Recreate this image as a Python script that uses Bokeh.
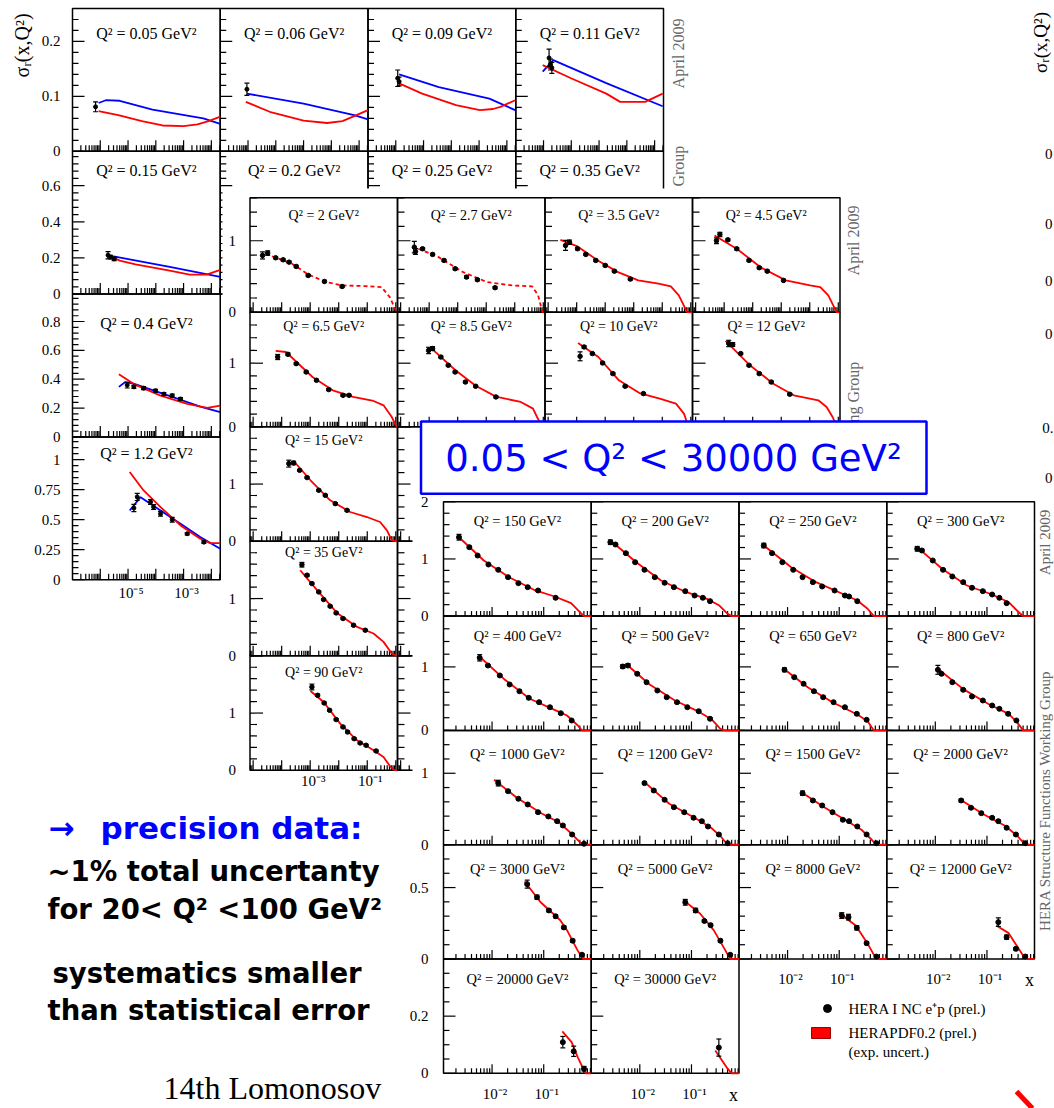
import math
from bokeh.plotting import figure
from bokeh.models import Range1d, LogScale, LinearScale, CoordinateMapping
from bokeh.core.properties import value
from bokeh.embed import file_html
from bokeh.resources import INLINE

# ---------------- values ----------------
# points: log10(x), sigma_r, error ; curves: log10(x), sigma_r
# grid 1 (0.05 - 1.2 GeV2): HERAPDF (red) and a second model (blue)
q0p05_lx = [-6.17]; q0p05_y = [0.081]; q0p05_e = [0.009]
q0p05_red_lx = [-6.06, -5.35, -4.5, -3.76, -3.0, -2.5, -2.1, -1.68]
q0p05_red_y = [0.073, 0.066, 0.055, 0.047, 0.046, 0.049, 0.055, 0.063]
q0p05_blue_lx = [-6.06, -5.8, -5.3, -4.12, -2.29, -1.68]
q0p05_blue_y = [0.088, 0.093, 0.092, 0.076, 0.060, 0.050]

q0p06_lx = [-6.04]; q0p06_y = [0.113]; q0p06_e = [0.011]
q0p06_red_lx = [-6.08, -5.22, -4.0, -3.15, -2.6, -2.18, -1.68]
q0p06_red_y = [0.090, 0.072, 0.056, 0.0515, 0.055, 0.064, 0.075]
q0p06_blue_lx = [-6.04, -4.0, -2.18, -1.68]
q0p06_blue_y = [0.105, 0.087, 0.066, 0.058]

q0p09_lx = [-5.93, -5.88]; q0p09_y = [0.133, 0.127]; q0p09_e = [0.015, 0.008]
q0p09_red_lx = [-5.9, -5.05, -3.83, -2.97, -2.5, -2.23, -1.70]
q0p09_red_y = [0.124, 0.105, 0.084, 0.075, 0.077, 0.081, 0.093]
q0p09_blue_lx = [-5.88, -4.45, -2.63, -1.70]
q0p09_blue_y = [0.140, 0.117, 0.096, 0.075]

q0p11_lx = [-5.8, -5.75, -5.7]; q0p11_y = [0.170, 0.158, 0.152]; q0p11_e = [0.016, 0.01, 0.01]
q0p11_red_lx = [-6.03, -5.01, -3.74, -3.24, -2.34, -1.71]
q0p11_red_y = [0.157, 0.133, 0.105, 0.090, 0.090, 0.105]
q0p11_blue_lx = [-6.03, -5.65, -3.74, -1.71]
q0p11_blue_y = [0.145, 0.166, 0.124, 0.082]

q0p15_lx = [-5.72, -5.62, -5.5]; q0p15_y = [0.215, 0.205, 0.195]; q0p15_e = [0.02, 0.01, 0.01]
q0p15_red_lx = [-5.7, -5.3, -4.73, -3.5, -2.78, -2.17, -1.68]
q0p15_red_y = [0.215, 0.185, 0.165, 0.13, 0.108, 0.108, 0.134]
q0p15_blue_lx = [-5.52, -3.5, -1.68]
q0p15_blue_y = [0.209, 0.15, 0.095]

q0p4_lx = [-5.03, -4.79, -4.44, -4.01, -3.71, -3.41, -3.11]
q0p4_y = [0.359, 0.347, 0.338, 0.32, 0.297, 0.286, 0.263]
q0p4_e = [0.02, 0.01, 0.01, 0.01, 0.01, 0.01, 0.01]
q0p4_red_lx = [-5.33, -4.79, -3.83, -2.87, -2.15, -1.68]
q0p4_red_y = [0.434, 0.366, 0.286, 0.229, 0.201, 0.217]
q0p4_blue_lx = [-5.33, -5.1, -4.8, -3.36, -2.40, -1.68]
q0p4_blue_y = [0.347, 0.38, 0.37, 0.274, 0.21, 0.171]

q1p2_lx = [-4.79, -4.67, -4.19, -4.08, -3.83, -3.41, -2.87, -2.27]
q1p2_y = [0.597, 0.69, 0.647, 0.605, 0.55, 0.5, 0.383, 0.313]
q1p2_e = [0.03, 0.03, 0.02, 0.02, 0.02, 0.02, 0.01, 0.01]
q1p2_red_lx = [-4.94, -4.44, -3.83, -3.11, -2.40, -2.04, -1.68]
q1p2_red_y = [0.897, 0.744, 0.605, 0.452, 0.341, 0.305, 0.305]
q1p2_blue_lx = [-4.94, -4.55, -3.83, -3.11, -2.40, -1.68]
q1p2_blue_y = [0.577, 0.688, 0.577, 0.467, 0.355, 0.258]

# grid 2 (2 - 90 GeV2)
q2_lx = [-4.67, -4.49, -4.21, -3.95, -3.74, -3.49, -3.07, -2.5, -1.88]
q2_y = [0.795, 0.827, 0.762, 0.734, 0.701, 0.641, 0.515, 0.431, 0.361]
q2_e = [0.05, 0.03, 0.015, 0.015, 0.015, 0.015, 0.015, 0.015, 0.015]
q2_red_lx = [-4.57, -3.64, -3.07, -2.5, -1.9, -1.07, -0.5, -0.21, 0.0, 0.05]
q2_red_y = [0.818, 0.679, 0.53, 0.43, 0.376, 0.366, 0.352, 0.212, 0.027, 0.0]

q2p7_lx = [-4.52, -4.48, -4.23, -3.88, -3.48, -3.09, -2.69, -2.31, -1.69]
q2p7_y = [0.91, 0.85, 0.888, 0.809, 0.725, 0.609, 0.492, 0.455, 0.344]
q2p7_e = [0.08, 0.04, 0.015, 0.015, 0.015, 0.015, 0.015, 0.015, 0.015]
q2p7_red_lx = [-4.38, -3.67, -2.81, -1.96, -1.1, -0.39, -0.18, -0.03, 0.05]
q2p7_red_y = [0.888, 0.771, 0.561, 0.421, 0.376, 0.362, 0.236, 0.003, 0.0]

q3p5_lx = [-4.39, -4.25, -3.97, -3.68, -3.33, -3.0, -2.68, -2.12]
q3p5_y = [0.934, 0.98, 0.888, 0.809, 0.725, 0.655, 0.575, 0.464]
q3p5_e = [0.07, 0.03, 0.015, 0.015, 0.015, 0.015, 0.015, 0.015]
q3p5_red_lx = [-4.57, -3.97, -3.26, -2.55, -1.84, -1.13, -0.7, -0.42, -0.13, 0.05]
q3p5_red_y = [1.013, 0.92, 0.725, 0.561, 0.446, 0.40, 0.362, 0.236, 0.003, 0.0]

q4p5_lx = [-4.27, -4.15, -3.87, -3.56, -3.13, -2.77, -2.49, -1.92]
q4p5_y = [1.0, 1.088, 1.013, 0.888, 0.725, 0.623, 0.575, 0.446]
q4p5_e = [0.04, 0.03, 0.015, 0.015, 0.015, 0.015, 0.015, 0.015]
q4p5_red_lx = [-4.34, -3.56, -2.7, -1.84, -0.99, -0.63, -0.35, -0.06, 0.05]
q4p5_red_y = [1.074, 0.888, 0.623, 0.446, 0.376, 0.352, 0.236, 0.003, 0.0]

q6p5_lx = [-4.14, -3.78, -3.49, -3.14, -2.78, -2.35, -1.85, -1.64]
q6p5_y = [1.097, 1.14, 0.993, 0.861, 0.731, 0.585, 0.495, 0.495]
q6p5_e = [0.04, 0.02, 0.015, 0.015, 0.015, 0.015, 0.015, 0.015]
q6p5_red_lx = [-4.21, -3.85, -2.92, -2.21, -1.5, -0.78, -0.43, -0.14, 0.0, 0.05]
q6p5_red_y = [1.192, 1.176, 0.783, 0.574, 0.469, 0.406, 0.338, 0.154, 0.024, 0.0]

q8p5_lx = [-4.02, -3.88, -3.59, -3.33, -3.09, -2.73, -2.37, -1.66]
q8p5_y = [1.2, 1.23, 1.097, 0.967, 0.861, 0.704, 0.637, 0.469]
q8p5_e = [0.05, 0.03, 0.015, 0.015, 0.015, 0.015, 0.015, 0.015]
q8p5_red_lx = [-3.95, -3.09, -2.37, -1.66, -0.79, -0.36, -0.22, -0.07, 0.05]
q8p5_red_y = [1.245, 0.893, 0.645, 0.474, 0.39, 0.286, 0.154, 0.024, 0.0]

q10_lx = [-3.88, -3.74, -3.45, -3.09, -2.73, -2.3, -1.66]
q10_y = [1.108, 1.255, 1.151, 1.003, 0.836, 0.637, 0.522]
q10_e = [0.07, 0.02, 0.015, 0.015, 0.015, 0.015, 0.015]
q10_red_lx = [-3.95, -3.24, -2.52, -1.8, -1.09, -0.52, -0.24, -0.1, 0.05]
q10_red_y = [1.318, 1.097, 0.731, 0.531, 0.443, 0.365, 0.208, 0.024, 0.0]

q12_lx = [-3.84, -3.7, -3.42, -3.13, -2.77, -2.35, -1.7]
q12_y = [1.31, 1.293, 1.151, 0.967, 0.836, 0.704, 0.511]
q12_e = [0.05, 0.03, 0.015, 0.015, 0.015, 0.015, 0.015]
q12_red_lx = [-3.95, -3.13, -2.28, -1.56, -0.7, -0.41, -0.2, -0.06, 0.05]
q12_red_y = [1.349, 0.98, 0.678, 0.495, 0.417, 0.311, 0.154, 0.01, 0.0]

q15_lx = [-3.75, -3.58, -3.37, -3.11, -2.7, -2.47, -2.12, -1.71]
q15_y = [1.357, 1.368, 1.24, 1.113, 0.891, 0.803, 0.658, 0.541]
q15_e = [0.06, 0.03, 0.015, 0.015, 0.015, 0.015, 0.015, 0.015]
q15_red_lx = [-3.58, -2.99, -2.3, -1.6, -1.01, -0.55, -0.31, -0.14, 0.05]
q15_red_y = [1.403, 1.066, 0.716, 0.512, 0.424, 0.337, 0.192, 0.017, 0.0]

q35_lx = [-3.29, -3.11, -2.94, -2.7, -2.53, -2.3, -2.09, -1.85, -1.48, -1.07]
q35_y = [1.591, 1.408, 1.262, 1.116, 0.983, 0.866, 0.749, 0.651, 0.534, 0.447]
q35_e = [0.04, 0.02, 0.015, 0.015, 0.015, 0.015, 0.015, 0.015, 0.015, 0.015]
q35_red_lx = [-3.35, -2.76, -2.06, -1.36, -0.78, -0.43, -0.14, 0.05]
q35_red_y = [1.495, 1.146, 0.749, 0.505, 0.39, 0.243, 0.04, 0.0]

q90_lx = [-2.94, -2.74, -2.51, -2.32, -2.09, -1.85, -1.69, -1.46, -1.25, -1.04, -0.69]
q90_y = [1.455, 1.31, 1.176, 1.048, 0.886, 0.757, 0.669, 0.553, 0.477, 0.437, 0.338]
q90_e = [0.05, 0.02, 0.015, 0.015, 0.015, 0.015, 0.015, 0.015, 0.015, 0.015, 0.015]
q90_red_lx = [-2.99, -2.53, -1.95, -1.36, -0.78, -0.43, -0.2, -0.08, 0.05]
q90_red_y = [1.385, 1.193, 0.816, 0.524, 0.349, 0.233, 0.07, 0.01, 0.0]

# grid 3 (150 - 30000 GeV2)
q150_lx = [-2.64, -2.44, -2.28, -2.07, -1.88, -1.69, -1.49, -1.31, -1.11, -0.77]
q150_y = [1.38, 1.206, 1.06, 0.903, 0.81, 0.681, 0.576, 0.506, 0.448, 0.32]
q150_e = [0.05, 0.02, 0.015, 0.015, 0.015, 0.015, 0.015, 0.015, 0.015, 0.015]
q150_red_lx = [-2.64, -2.16, -1.67, -1.19, -0.79, -0.47, -0.3, -0.22, -0.08]
q150_red_y = [1.38, 0.973, 0.681, 0.46, 0.343, 0.226, 0.068, 0.0, 0.0]

q200_lx = [-2.57, -2.47, -2.27, -2.09, -1.91, -1.71, -1.52, -1.34, -1.12, -0.94, -0.78, -0.64]
q200_y = [1.293, 1.253, 1.101, 0.943, 0.81, 0.681, 0.583, 0.506, 0.436, 0.36, 0.32, 0.261]
q200_e = [0.04, 0.02, 0.015, 0.015, 0.015, 0.015, 0.015, 0.015, 0.015, 0.015, 0.015, 0.015]
q200_red_lx = [-2.55, -2.07, -1.59, -1.1, -0.7, -0.46, -0.3, -0.22, -0.08]
q200_red_y = [1.31, 0.943, 0.623, 0.418, 0.302, 0.185, 0.04, 0.0, 0.0]

q250_lx = [-2.46, -2.3, -2.1, -1.89, -1.71, -1.51, -1.33, -1.09, -0.89, -0.81, -0.65]
q250_y = [1.235, 1.101, 0.943, 0.81, 0.681, 0.594, 0.518, 0.448, 0.36, 0.343, 0.261]
q250_e = [0.04, 0.015, 0.015, 0.015, 0.015, 0.015, 0.015, 0.015, 0.015, 0.015, 0.015]
q250_red_lx = [-2.46, -1.93, -1.45, -0.96, -0.65, -0.45, -0.33, -0.08]
q250_red_y = [1.235, 0.856, 0.594, 0.4, 0.273, 0.128, 0.0, 0.0]

q300_lx = [-2.35, -2.26, -2.05, -1.85, -1.67, -1.46, -1.29, -1.08, -0.9, -0.76, -0.62]
q300_y = [1.178, 1.148, 0.973, 0.81, 0.693, 0.594, 0.496, 0.436, 0.378, 0.32, 0.226]
q300_e = [0.04, 0.02, 0.015, 0.015, 0.015, 0.015, 0.015, 0.015, 0.015, 0.015, 0.015]
q300_red_lx = [-2.35, -1.87, -1.39, -0.9, -0.58, -0.42, -0.3, -0.08]
q300_red_y = [1.206, 0.828, 0.535, 0.378, 0.243, 0.098, 0.0, 0.0]

q400_lx = [-2.24, -2.08, -1.85, -1.66, -1.47, -1.29, -1.09, -0.88, -0.67, -0.46]
q400_y = [1.143, 1.022, 0.865, 0.723, 0.617, 0.513, 0.444, 0.365, 0.271, 0.156]
q400_e = [0.05, 0.015, 0.015, 0.015, 0.015, 0.015, 0.015, 0.015, 0.015, 0.015]
q400_red_lx = [-2.24, -1.75, -1.27, -0.79, -0.55, -0.34, -0.26, -0.08]
q400_red_y = [1.16, 0.797, 0.498, 0.324, 0.235, 0.077, 0.0, 0.0]

q500_lx = [-2.33, -2.23, -2.05, -1.87, -1.66, -1.48, -1.28, -1.08, -0.86, -0.64]
q500_y = [1.006, 1.022, 0.891, 0.759, 0.628, 0.523, 0.444, 0.365, 0.302, 0.183]
q500_e = [0.03, 0.03, 0.015, 0.015, 0.015, 0.015, 0.015, 0.015, 0.015, 0.015]
q500_red_lx = [-2.25, -1.81, -1.32, -0.84, -0.6, -0.44, -0.36, -0.08]
q500_red_y = [1.033, 0.723, 0.471, 0.287, 0.167, 0.025, 0.0, 0.0]

q650_lx = [-2.06, -1.87, -1.69, -1.49, -1.31, -1.11, -0.89, -0.66, -0.47]
q650_y = [0.954, 0.838, 0.734, 0.617, 0.523, 0.444, 0.365, 0.261, 0.167]
q650_e = [0.03, 0.015, 0.015, 0.015, 0.015, 0.015, 0.015, 0.015, 0.015]
q650_red_lx = [-2.1, -1.61, -1.13, -0.65, -0.45, -0.33, -0.08]
q650_red_y = [0.986, 0.68, 0.444, 0.25, 0.145, 0.0, 0.0]

q800_lx = [-1.95, -1.88, -1.67, -1.46, -1.29, -1.08, -0.9, -0.76, -0.59, -0.43]
q800_y = [0.954, 0.891, 0.759, 0.639, 0.534, 0.471, 0.392, 0.34, 0.261, 0.156]
q800_e = [0.07, 0.02, 0.015, 0.015, 0.015, 0.015, 0.015, 0.015, 0.015, 0.015]
q800_red_lx = [-1.95, -1.46, -0.98, -0.58, -0.42, -0.3, -0.08]
q800_red_y = [0.97, 0.65, 0.419, 0.261, 0.13, 0.0, 0.0]

q1000_lx = [-1.88, -1.69, -1.49, -1.31, -1.11, -0.91, -0.74, -0.63, -0.45, -0.22]
q1000_y = [0.862, 0.749, 0.643, 0.563, 0.455, 0.395, 0.329, 0.269, 0.143, 0.013]
q1000_e = [0.04, 0.015, 0.015, 0.015, 0.015, 0.015, 0.015, 0.015, 0.015, 0.01]
q1000_red_lx = [-1.96, -1.52, -1.03, -0.71, -0.46, -0.3, -0.22, -0.08]
q1000_red_y = [0.909, 0.657, 0.433, 0.315, 0.153, 0.035, 0.0, 0.0]

q1200_lx = [-1.91, -1.73, -1.52, -1.34, -1.14, -0.96, -0.8, -0.68, -0.47, -0.3]
q1200_y = [0.862, 0.759, 0.629, 0.525, 0.455, 0.377, 0.329, 0.255, 0.143, 0.021]
q1200_e = [0.02, 0.015, 0.015, 0.015, 0.015, 0.015, 0.015, 0.015, 0.015, 0.01]
q1200_red_lx = [-1.91, -1.43, -0.94, -0.62, -0.42, -0.3, -0.08]
q1200_red_y = [0.875, 0.573, 0.377, 0.237, 0.105, 0.0, 0.0]

q1500_lx = [-1.71, -1.51, -1.33, -1.13, -0.93, -0.81, -0.65, -0.47, -0.28]
q1500_y = [0.721, 0.619, 0.549, 0.455, 0.349, 0.329, 0.255, 0.143, 0.021]
q1500_e = [0.03, 0.015, 0.015, 0.015, 0.015, 0.015, 0.015, 0.015, 0.01]
q1500_red_lx = [-1.73, -1.29, -0.81, -0.57, -0.37, -0.28, -0.08]
q1500_red_y = [0.735, 0.525, 0.315, 0.209, 0.069, 0.0, 0.0]

q2000_lx = [-1.5, -1.31, -1.11, -0.9, -0.78, -0.62, -0.44, -0.26]
q2000_y = [0.619, 0.517, 0.441, 0.377, 0.329, 0.237, 0.143, 0.021]
q2000_e = [0.02, 0.015, 0.015, 0.015, 0.015, 0.015, 0.015, 0.01]
q2000_red_lx = [-1.51, -1.06, -0.66, -0.42, -0.26, -0.08]
q2000_red_y = [0.63, 0.423, 0.269, 0.129, 0.0, 0.0]

q3000_lx = [-1.32, -1.13, -0.9, -0.77, -0.61, -0.44, -0.26]
q3000_y = [0.524, 0.432, 0.34, 0.299, 0.221, 0.128, 0.03]
q3000_e = [0.028, 0.015, 0.01, 0.01, 0.01, 0.01, 0.008]
q3000_red_lx = [-1.37, -1.06, -0.68, -0.55, -0.35, -0.24, -0.08]
q3000_red_y = [0.542, 0.397, 0.271, 0.202, 0.064, 0.0, 0.0]

q5000_lx = [-1.12, -0.92, -0.75, -0.63, -0.44, -0.25]
q5000_y = [0.397, 0.34, 0.266, 0.237, 0.128, 0.03]
q5000_e = [0.02, 0.015, 0.01, 0.01, 0.01, 0.008]
q5000_red_lx = [-1.16, -0.83, -0.57, -0.38, -0.25, -0.08]
q5000_red_y = [0.414, 0.317, 0.202, 0.083, 0.0, 0.0]

q8000_lx = [-0.95, -0.82, -0.66, -0.47, -0.28]
q8000_y = [0.304, 0.293, 0.218, 0.111, 0.017]
q8000_e = [0.02, 0.02, 0.015, 0.01, 0.008]
q8000_red_lx = [-1.0, -0.68, -0.44, -0.32, -0.24, -0.08]
q8000_red_y = [0.32, 0.234, 0.101, 0.024, 0.0, 0.0]

q12000_lx = [-0.78, -0.62, -0.44, -0.26]
q12000_y = [0.258, 0.153, 0.071, 0.017]
q12000_e = [0.03, 0.015, 0.01, 0.008]
q12000_red_lx = [-0.82, -0.58, -0.38, -0.26, -0.08]
q12000_red_y = [0.234, 0.181, 0.069, 0.0, 0.0]

q20000_lx = [-0.63, -0.42, -0.22]
q20000_y = [0.109, 0.077, 0.016]
q20000_e = [0.02, 0.018, 0.008]
q20000_red_lx = [-0.64, -0.46, -0.34, -0.22, -0.18, -0.08]
q20000_red_y = [0.147, 0.109, 0.056, 0.01, 0.0, 0.0]

q30000_lx = [-0.47]
q30000_y = [0.09]
q30000_e = [0.03]
q30000_red_lx = [-0.54, -0.3, -0.22, -0.08]
q30000_red_y = [0.08, 0.016, 0.0, 0.0]

# tick labels
g1_ylabels = [["0", "0.1", "0.2"], ["0", "0.2", "0.4", "0.6"],
              ["0", "0.2", "0.4", "0.6", "0.8"], ["0", "0.25", "0.5", "0.75", "1"]]
g2_ylabels = [["0", "1"], ["0", "1"], ["0", "1"], ["0", "1"], ["0", "1"]]
g3_ylabels = [["0", "1", "2"], ["0", "1"], ["0", "1"], ["0", "0.5"], ["0", "0.2"]]
g1_xticks = [1e-5, 1e-3]; g1_xlabels = ["10⁻⁵", "10⁻³"]
g2_xticks = [1e-3, 1e-1]; g2_xlabels = ["10⁻³", "10⁻¹"]
g3_xticks = [1e-2, 1e-1]; g3_xlabels = ["10⁻²", "10⁻¹"]
edge_labels = ["0", "0", "0", "0", "0.", "0"]   # y labels of the next page, cut by the slide edge

N = None
PANELS = [
    # grid, row, col, Q2 label, pts lx, pts y, pts err, HERAPDF lx, HERAPDF y, model lx, model y, dashed
    (1, 0, 0, "0.05", q0p05_lx, q0p05_y, q0p05_e, q0p05_red_lx, q0p05_red_y, q0p05_blue_lx, q0p05_blue_y, False),
    (1, 0, 1, "0.06", q0p06_lx, q0p06_y, q0p06_e, q0p06_red_lx, q0p06_red_y, q0p06_blue_lx, q0p06_blue_y, False),
    (1, 0, 2, "0.09", q0p09_lx, q0p09_y, q0p09_e, q0p09_red_lx, q0p09_red_y, q0p09_blue_lx, q0p09_blue_y, False),
    (1, 0, 3, "0.11", q0p11_lx, q0p11_y, q0p11_e, q0p11_red_lx, q0p11_red_y, q0p11_blue_lx, q0p11_blue_y, False),
    (1, 1, 0, "0.15", q0p15_lx, q0p15_y, q0p15_e, q0p15_red_lx, q0p15_red_y, q0p15_blue_lx, q0p15_blue_y, False),
    (1, 1, 1, "0.2", N, N, N, N, N, N, N, False),
    (1, 1, 2, "0.25", N, N, N, N, N, N, N, False),
    (1, 1, 3, "0.35", N, N, N, N, N, N, N, False),
    (1, 2, 0, "0.4", q0p4_lx, q0p4_y, q0p4_e, q0p4_red_lx, q0p4_red_y, q0p4_blue_lx, q0p4_blue_y, False),
    (1, 3, 0, "1.2", q1p2_lx, q1p2_y, q1p2_e, q1p2_red_lx, q1p2_red_y, q1p2_blue_lx, q1p2_blue_y, False),
    (2, 0, 0, "2", q2_lx, q2_y, q2_e, q2_red_lx, q2_red_y, N, N, True),
    (2, 0, 1, "2.7", q2p7_lx, q2p7_y, q2p7_e, q2p7_red_lx, q2p7_red_y, N, N, True),
    (2, 0, 2, "3.5", q3p5_lx, q3p5_y, q3p5_e, q3p5_red_lx, q3p5_red_y, N, N, False),
    (2, 0, 3, "4.5", q4p5_lx, q4p5_y, q4p5_e, q4p5_red_lx, q4p5_red_y, N, N, False),
    (2, 1, 0, "6.5", q6p5_lx, q6p5_y, q6p5_e, q6p5_red_lx, q6p5_red_y, N, N, False),
    (2, 1, 1, "8.5", q8p5_lx, q8p5_y, q8p5_e, q8p5_red_lx, q8p5_red_y, N, N, False),
    (2, 1, 2, "10", q10_lx, q10_y, q10_e, q10_red_lx, q10_red_y, N, N, False),
    (2, 1, 3, "12", q12_lx, q12_y, q12_e, q12_red_lx, q12_red_y, N, N, False),
    (2, 2, 0, "15", q15_lx, q15_y, q15_e, q15_red_lx, q15_red_y, N, N, False),
    (2, 2, 1, N, N, N, N, N, N, N, N, False),
    (2, 2, 2, N, N, N, N, N, N, N, N, False),
    (2, 2, 3, N, N, N, N, N, N, N, N, False),
    (2, 3, 0, "35", q35_lx, q35_y, q35_e, q35_red_lx, q35_red_y, N, N, False),
    (2, 3, 1, N, N, N, N, N, N, N, N, False),
    (2, 4, 0, "90", q90_lx, q90_y, q90_e, q90_red_lx, q90_red_y, N, N, False),
    (2, 4, 1, N, N, N, N, N, N, N, N, False),
    (3, 0, 0, "150", q150_lx, q150_y, q150_e, q150_red_lx, q150_red_y, N, N, False),
    (3, 0, 1, "200", q200_lx, q200_y, q200_e, q200_red_lx, q200_red_y, N, N, False),
    (3, 0, 2, "250", q250_lx, q250_y, q250_e, q250_red_lx, q250_red_y, N, N, False),
    (3, 0, 3, "300", q300_lx, q300_y, q300_e, q300_red_lx, q300_red_y, N, N, False),
    (3, 1, 0, "400", q400_lx, q400_y, q400_e, q400_red_lx, q400_red_y, N, N, False),
    (3, 1, 1, "500", q500_lx, q500_y, q500_e, q500_red_lx, q500_red_y, N, N, False),
    (3, 1, 2, "650", q650_lx, q650_y, q650_e, q650_red_lx, q650_red_y, N, N, False),
    (3, 1, 3, "800", q800_lx, q800_y, q800_e, q800_red_lx, q800_red_y, N, N, False),
    (3, 2, 0, "1000", q1000_lx, q1000_y, q1000_e, q1000_red_lx, q1000_red_y, N, N, False),
    (3, 2, 1, "1200", q1200_lx, q1200_y, q1200_e, q1200_red_lx, q1200_red_y, N, N, False),
    (3, 2, 2, "1500", q1500_lx, q1500_y, q1500_e, q1500_red_lx, q1500_red_y, N, N, False),
    (3, 2, 3, "2000", q2000_lx, q2000_y, q2000_e, q2000_red_lx, q2000_red_y, N, N, False),
    (3, 3, 0, "3000", q3000_lx, q3000_y, q3000_e, q3000_red_lx, q3000_red_y, N, N, False),
    (3, 3, 1, "5000", q5000_lx, q5000_y, q5000_e, q5000_red_lx, q5000_red_y, N, N, False),
    (3, 3, 2, "8000", q8000_lx, q8000_y, q8000_e, q8000_red_lx, q8000_red_y, N, N, False),
    (3, 3, 3, "12000", q12000_lx, q12000_y, q12000_e, q12000_red_lx, q12000_red_y, N, N, False),
    (3, 4, 0, "20000", q20000_lx, q20000_y, q20000_e, q20000_red_lx, q20000_red_y, N, N, False),
    (3, 4, 1, "30000", q30000_lx, q30000_y, q30000_e, q30000_red_lx, q30000_red_y, N, N, False),
]

# ---------------- layout / style ----------------
W, H = 1054, 1108
SERIF = value("Liberation Serif")
SANS = value("DejaVu Sans")

GRID = {
    1: dict(x0=72.0, y0=8.0, w=147.75, h=142.8, lxlo=-7.0, lxhi=-1.68,
            ymax=[0.26, 0.79, 0.99, 1.19], ymaj=[0.1, 0.2, 0.2, 0.25], ymin=[0.02, 0.04, 0.04, 0.05],
            tick=(12, 6, 11, 6), label_dy=[25, 19, 29, 17], label_size="16px", ylab_dx=-12,
            dot=4, ylabels=g1_ylabels),
    2: dict(x0=249.5, y0=197.3, w=147.5, h=114.5, lxlo=-5.11, lxhi=0.06,
            ymax=[1.6, 1.8, 2.0, 2.0, 2.0], ymaj=[1, 1, 1, 1, 1], ymin=[0.2] * 5,
            tick=(13, 7, 10, 5), label_dy=[17.5, 14, 13.5, 11, 17], label_size="14px", ylab_dx=-14,
            dot=4.5, ylabels=g2_ylabels),
    3: dict(x0=443.0, y0=501.3, w=147.75, h=114.3, lxlo=-2.94, lxhi=-0.08,
            ymax=[2.0, 1.8, 1.6, 0.8, 0.4], ymaj=[1, 1, 1, 0.5, 0.2], ymin=[0.2, 0.2, 0.2, 0.1, 0.05],
            tick=(12, 6, 9, 5), label_dy=[19, 19.5, 23.5, 24, 20], label_size="14.5px", ylab_dx=-15,
            dot=5, ylabels=g3_ylabels),
}
BACKDROP = {2: (222, 880, 188, 795), 3: (412, 1054, 493, 1108)}
XLAB = {  # (grid, row, col): (ticks, labels, y offset)
    (1, 3, 0): (g1_xticks, g1_xlabels, 13),
    (2, 4, 0): (g2_xticks, g2_xlabels, 11),
    (3, 4, 0): (g3_xticks, g3_xlabels, 21),
    (3, 4, 1): (g3_xticks, g3_xlabels, 21),
    (3, 3, 2): (g3_xticks, g3_xlabels, 20),
    (3, 3, 3): (g3_xticks, g3_xlabels, 20),
}

p = figure(width=W, height=H, x_range=Range1d(0, W), y_range=Range1d(H, 0),
           x_axis_location=None, y_axis_location=None, toolbar_location=None,
           output_backend="svg", min_border=0)
p.outline_line_color = None
p.background_fill_color = "white"
p.border_fill_color = "white"
p.grid.visible = False


def mapping(g, r, c):
    G = GRID[g]
    left = G["x0"] + c * G["w"]
    top = G["y0"] + r * G["h"]
    cm = CoordinateMapping(
        x_source=Range1d(start=10 ** G["lxlo"], end=10 ** G["lxhi"]),
        y_source=Range1d(start=0.0, end=G["ymax"][r]),
        x_scale=LogScale(), y_scale=LinearScale(),
        x_target=Range1d(start=left, end=left + G["w"]),
        y_target=Range1d(start=top + G["h"], end=top),
    )
    return cm, left, top


def on(rend, cm):
    rend.coordinates = cm
    return rend


def draw_ticks(cm, g, r):
    G = GRID[g]
    ymax, maj, mnr = G["ymax"][r], G["ymaj"][r], G["ymin"][r]
    ys, ls = [], []
    k = 0
    while k * mnr <= ymax + 1e-9:
        v = k * mnr
        q = v / maj
        ys.append(v)
        ls.append(G["tick"][0] if abs(q - round(q)) < 1e-6 else G["tick"][1])
        k += 1
    xlo = 10 ** G["lxlo"]
    on(p.ray(x=[xlo] * len(ys), y=ys, length=ls, angle=0.0, length_units="screen",
             line_color="black", line_width=1.2), cm)
    xs, xl = [], []
    for e in range(int(math.floor(G["lxlo"])), int(math.ceil(G["lxhi"])) + 1):
        for m in range(1, 10):
            lv = e + math.log10(m)
            if G["lxlo"] + 1e-6 < lv < G["lxhi"] - 1e-6:
                xs.append(m * 10.0 ** e)
                xl.append(G["tick"][2] if m == 1 else G["tick"][3])
    on(p.ray(x=xs, y=[0.0] * len(xs), length=xl, angle=math.pi / 2, length_units="screen",
             line_color="black", line_width=1.2), cm)


def draw_panel(g, r, c, lab, lx, y, e, rlx, ry, blx, by, dashed):
    G = GRID[g]
    cm, left, top = mapping(g, r, c)
    draw_ticks(cm, g, r)
    if blx:
        on(p.line(x=[10 ** v for v in blx], y=by, line_color="#0000ff", line_width=1.8), cm)
    if rlx:
        on(p.line(x=[10 ** v for v in rlx], y=ry, line_color="#ff0000", line_width=1.8,
                  line_dash="4 3" if dashed else "solid"), cm)
    if lx:
        xs = [10 ** v for v in lx]
        lo = [a - b for a, b in zip(y, e)]
        hi = [a + b for a, b in zip(y, e)]
        on(p.segment(x0=xs, y0=lo, x1=xs, y1=hi, line_color="black", line_width=1.2), cm)
        on(p.scatter(x=xs + xs, y=lo + hi, marker="dash", size=5, line_color="black", line_width=1.2), cm)
        on(p.scatter(x=xs, y=y, marker="circle", size=G["dot"], fill_color="black", line_color="black"), cm)
    if c == 0:
        labs = G["ylabels"][r]
        on(p.text(x=[10 ** G["lxlo"]] * len(labs), y=[float(t) for t in labs], text=labs,
                  x_offset=G["ylab_dx"], text_align="right", text_baseline="middle",
                  text_font=SERIF, text_font_size="15px", text_color="black"), cm)
    if (g, r, c) in XLAB:
        ticks, labs, dy = XLAB[(g, r, c)]
        on(p.text(x=ticks, y=[0.0] * len(ticks), text=labs, x_offset=3, y_offset=dy,
                  text_align="center", text_baseline="middle",
                  text_font=SERIF, text_font_size="15px", text_color="black"), cm)
    if lab is not None:
        p.text(x=[left + G["w"] / 2], y=[top + G["label_dy"][r]], text=[f"Q² = {lab} GeV²"],
               text_align="center", text_baseline="middle", text_font=SERIF,
               text_font_size=G["label_size"], text_color="black")


def side_text(x, y_april, y_end, size="16px"):
    p.text(x=[x], y=[y_april], text=["April 2009"], angle=math.pi / 2, text_align="center",
           text_baseline="middle", text_font=SERIF, text_font_size=size, text_color="#666666")
    p.text(x=[x], y=[y_end], text=["HERA Structure Functions Working Group"], angle=math.pi / 2,
           text_align="right", text_baseline="middle", text_font=SERIF, text_font_size=size,
           text_color="#666666")


# partial fourth page at the right edge
p.text(x=[1040], y=[42], text=["σᵣ(x,Q²)"], angle=math.pi / 2, text_align="center",
       text_baseline="middle", text_font=SERIF, text_font_size="19px", text_color="black")
p.text(x=[1052, 1052, 1052, 1052, 1053, 1052], y=[153, 223, 280, 333, 427, 477], text=edge_labels,
       text_align="right", text_baseline="middle", text_font=SERIF, text_font_size="15px", text_color="black")

for g in (1, 2, 3):
    G = GRID[g]
    if g in BACKDROP:
        l, rr, t, b = BACKDROP[g]
        p.quad(left=[l], right=[rr], top=[t], bottom=[b], fill_color="white", line_color=None)
    rows = [pp for pp in PANELS if pp[0] == g]
    p.quad(left=[G["x0"] + pp[2] * G["w"] for pp in rows],
           right=[G["x0"] + (pp[2] + 1) * G["w"] for pp in rows],
           top=[G["y0"] + pp[1] * G["h"] for pp in rows],
           bottom=[G["y0"] + (pp[1] + 1) * G["h"] for pp in rows],
           fill_color=None, line_color="black", line_width=1.5)
    for pp in rows:
        draw_panel(*pp)
    if g == 1:
        p.text(x=[21], y=[45], text=["σᵣ(x,Q²)"], angle=math.pi / 2, text_align="center",
               text_baseline="middle", text_font=SERIF, text_font_size="20px", text_color="black")
        side_text(678, 53, 144)
    if g == 2:
        side_text(853, 240, 360)
        p.text(x=[163], y=[1087], text=["14th Lomonosov"], text_align="left", text_baseline="middle",
               text_font=SERIF, text_font_size="32px", text_color="black")
    if g == 3:
        p.text(x=[733, 1029], y=[1094, 979], text=["x", "x"], text_align="center", text_baseline="middle",
               text_font=SERIF, text_font_size="18px", text_color="black")
        side_text(1044, 542, 670, size="15px")
        # legend
        p.scatter(x=[827], y=[1008], marker="circle", size=8, fill_color="black", line_color="black")
        p.quad(left=[811], right=[830], top=[1027], bottom=[1038], fill_color="#ff0000", line_color="#990000")
        p.text(x=[848, 848, 848], y=[1008, 1032, 1051],
               text=["HERA I NC e⁺p (prel.)", "HERAPDF0.2 (prel.)", "(exp. uncert.)"],
               text_align="left", text_baseline="middle", text_font=SERIF, text_font_size="15px",
               text_color="black")

# highlighted Q2 range box
p.quad(left=[420.5], right=[926], top=[421], bottom=[493.3], fill_color="white",
       line_color="#0000ff", line_width=2.5)
p.text(x=[673], y=[458], text=["0.05 < Q² < 30000 GeV²"], text_align="center", text_baseline="middle",
       text_font=SANS, text_font_size="37px", text_color="#0000ff")

# slide text on the left
p.text(x=[48], y=[827], text=["→"], text_align="left", text_baseline="middle",
       text_font=SANS, text_font_size="31px", text_font_style="bold", text_color="#0000ff")
p.text(x=[100], y=[827], text=["precision data:"], text_align="left", text_baseline="middle",
       text_font=SANS, text_font_size="31px", text_font_style="bold", text_color="#0000ff")
p.text(x=[47, 47, 52, 47], y=[870, 908, 972, 1009],
       text=["~1% total uncertanty", "for 20< Q² <100 GeV²", "systematics smaller", "than statistical error"],
       text_align="left", text_baseline="middle", text_font=SANS, text_font_size="27.5px",
       text_font_style="bold", text_color="black")

# red arrow stroke at the bottom right
p.line(x=[1016, 1032], y=[1091, 1108], line_color="#ff0000", line_width=5)

open("out.html", "w").write(file_html(p, INLINE))
